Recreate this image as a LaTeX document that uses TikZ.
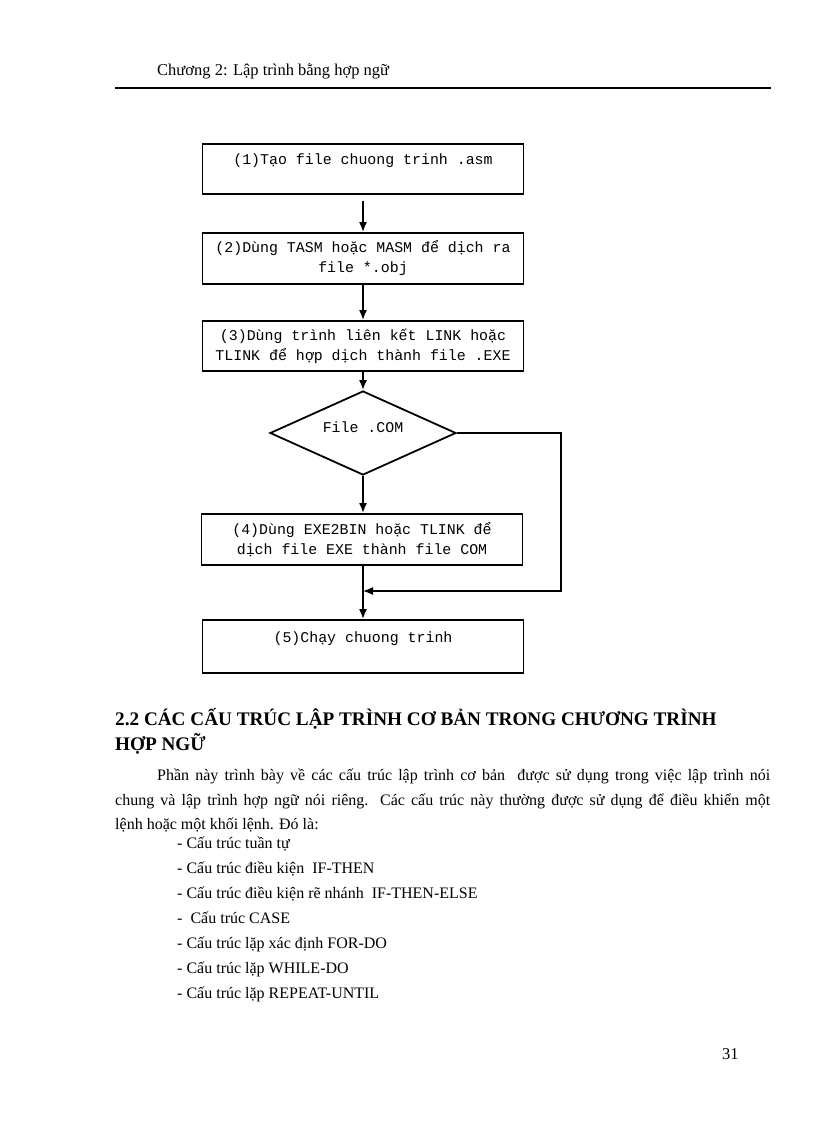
\documentclass[tikz,border=0pt]{standalone}
\usepackage{fontspec}
\setmainfont{Liberation Serif}
\newfontfamily\courfont{Liberation Mono}
\usetikzlibrary{shapes.geometric, arrows.meta}

\tikzset{
  stepbox/.style={draw, line width=1.8pt, minimum width=321pt, minimum height=50pt,
    align=center, font=\courfont\fontsize{14.9}{20}\selectfont},
  onerow/.style={text depth=19pt},
  decide/.style={draw, diamond, aspect=2.2, line width=1.8pt, minimum width=186pt, minimum height=84pt,
    inner sep=0pt, text depth=12pt, font=\courfont\fontsize{14.9}{20}\selectfont},
  bodytext/.style={anchor=base west, inner sep=0pt, font=\fontsize{16}{20}\selectfont},
  headtext/.style={anchor=base west, inner sep=0pt, font=\bfseries\fontsize{19.2}{24}\selectfont},
}

\begin{document}
\begin{tikzpicture}[x=1pt, y=-1pt, >={Latex[length=10pt,width=8pt]}]
\useasboundingbox (0,0) rectangle (816,1123);
\fill[white] (0,0) rectangle (816,1123);

% page header
\node[anchor=base west, inner sep=0pt, font=\fontsize{16.5}{20}\selectfont] (chap) at (157,76) {Chương 2: Lập trình bằng hợp ngữ};
\draw[line width=1.5pt] (115,88) -- (771,88);

% flowchart
\node[stepbox, onerow] (make) at (363,169) {(1)Tạo file chuong trinh .asm};
\node[stepbox, minimum height=51pt] (asm) at (363,258.5) {(2)Dùng TASM hoặc MASM để dịch ra\\file *.obj};
\node[stepbox] (link) at (363,346) {(3)Dùng trình liên kết LINK hoặc\\TLINK để hợp dịch thành file .EXE};
\node[decide] (com) at (363,433) {File .COM};
\node[stepbox, minimum height=51pt] (conv) at (362,539.5) {(4)Dùng EXE2BIN hoặc TLINK để\\dịch file EXE thành file COM};
\node[stepbox, onerow, minimum height=53pt] (run) at (363,646.5) {(5)Chạy chuong trinh};

\draw[->, line width=1.8pt] ([yshift=-6pt]make.south) -- (asm.north);
\draw[->, line width=1.8pt] (asm) -- (link);
\draw[->, line width=1.8pt] (link) -- (com);
\draw[->, line width=1.8pt] (com) -- (com |- conv.north);
\draw[->, line width=1.8pt] (conv.south -| run.north) -- (run.north);

\coordinate (turn) at (561,591);
\coordinate (merge) at (run.north |- turn);
\draw[->, line width=1.3pt] (com.east) -| (turn) -- (merge);

% section text
\node[headtext] (sec) at (115,725) {2.2 CÁC CẤU TRÚC LẬP TRÌNH CƠ BẢN TRONG CHƯƠNG TRÌNH};
\node[headtext] (sec2) at (115,750) {HỢP NGỮ};

\node[bodytext] (par1) at (157,780) {\hbox to 613pt{Phần này trình bày về các cấu trúc lập trình cơ bản\ \ được sử dụng trong việc lập trình nói}};
\node[bodytext] (par2) at (115,805) {\hbox to 655pt{chung và lập trình hợp ngữ nói riêng. Các cấu trúc này thường được sử dụng để điều khiển một}};
\node[bodytext] (par3) at (115,829) {lệnh hoặc một khối lệnh. Đó là:};

\foreach \entry [count=\i] in {{- Cấu trúc tuần tự},
    {- Cấu trúc điều kiện\ \ IF-THEN},
    {- Cấu trúc điều kiện rẽ nhánh\ \ IF-THEN-ELSE},
    {-\ \ Cấu trúc CASE},
    {- Cấu trúc lặp xác định FOR-DO},
    {- Cấu trúc lặp WHILE-DO},
    {- Cấu trúc lặp REPEAT-UNTIL}}
  \node[bodytext] (kind\i) at (177,823+25*\i) {\entry};

\node[anchor=base west, inner sep=0pt, font=\fontsize{16.5}{20}\selectfont] (pageno) at (722,1059) {31};

\end{tikzpicture}
\end{document}
